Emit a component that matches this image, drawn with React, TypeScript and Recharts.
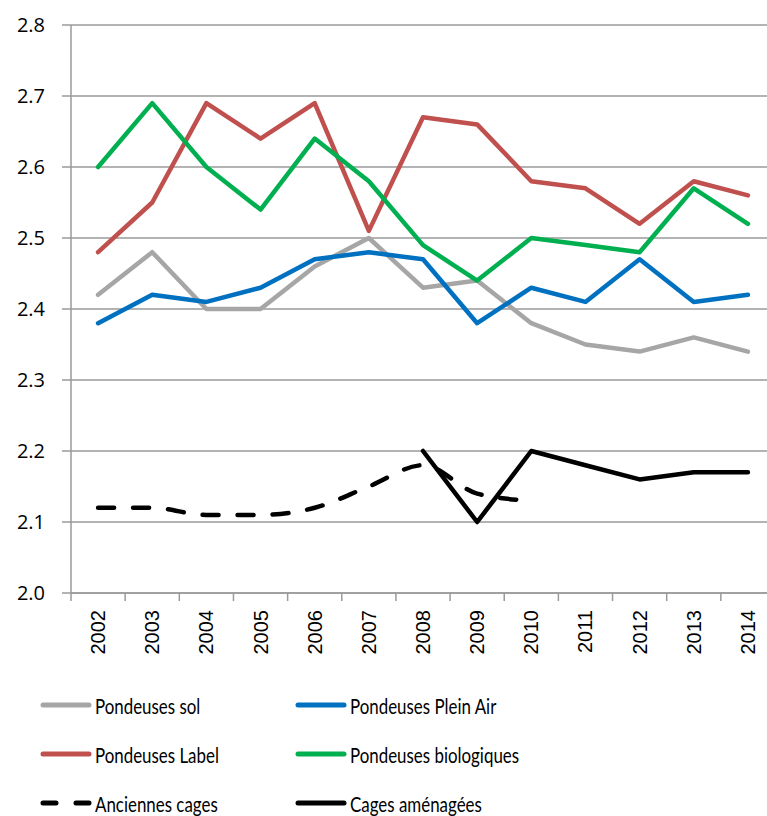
import { LineChart, Line, XAxis, YAxis, CartesianGrid } from 'recharts';

// années (axe X)
const years = ['2002', '2003', '2004', '2005', '2006', '2007', '2008', '2009', '2010', '2011', '2012', '2013', '2014'];

// séries
const pondeusesSol = [2.42, 2.48, 2.4, 2.4, 2.46, 2.5, 2.43, 2.44, 2.38, 2.35, 2.34, 2.36, 2.34];
const pondeusesPleinAir = [2.38, 2.42, 2.41, 2.43, 2.47, 2.48, 2.47, 2.38, 2.43, 2.41, 2.47, 2.41, 2.42];
const pondeusesLabel = [2.48, 2.55, 2.69, 2.64, 2.69, 2.51, 2.67, 2.66, 2.58, 2.57, 2.52, 2.58, 2.56];
const pondeusesBio = [2.6, 2.69, 2.6, 2.54, 2.64, 2.58, 2.49, 2.44, 2.5, 2.49, 2.48, 2.57, 2.52];
const anciennesCages = [2.12, 2.12, 2.11, 2.11, 2.12, 2.15, 2.18, 2.14, 2.13, null, null, null, null];
const cagesAmenagees = [null, null, null, null, null, null, 2.2, 2.1, 2.2, 2.18, 2.16, 2.17, 2.17];

const yTicks = [2.0, 2.1, 2.2, 2.3, 2.4, 2.5, 2.6, 2.7, 2.8];

const series = [
  { key: 'sol', name: 'Pondeuses sol', color: '#a6a6a6', values: pondeusesSol, dashed: false },
  { key: 'pleinAir', name: 'Pondeuses Plein Air', color: '#0070c0', values: pondeusesPleinAir, dashed: false },
  { key: 'label', name: 'Pondeuses Label', color: '#c0504d', values: pondeusesLabel, dashed: false },
  { key: 'bio', name: 'Pondeuses biologiques', color: '#00b050', values: pondeusesBio, dashed: false },
  { key: 'anciennes', name: 'Anciennes cages', color: '#000000', values: anciennesCages, dashed: true },
  { key: 'amenagees', name: 'Cages aménagées', color: '#000000', values: cagesAmenagees, dashed: false },
];

const data = years.map((year, i) => {
  const row: Record<string, string | number | null> = { year };
  series.forEach((s) => {
    row[s.key] = s.values[i];
  });
  return row;
});

const CHART_W = 775;
const CHART_H = 670;
const Y_AXIS_W = 71;
const BAND = (CHART_W - Y_AXIS_W) / years.length;
const GRID = '#9a9a9a';

const XTick = (props: any) => {
  const { x, y, payload, index } = props;
  const axisY = y - 17;
  return (
    <g>
      <line x1={x - BAND / 2} x2={x - BAND / 2} y1={axisY} y2={axisY + 8} stroke={GRID} strokeWidth={1.5} />
      {index === years.length - 1 && (
        <line x1={x + BAND / 2} x2={x + BAND / 2} y1={axisY} y2={axisY + 8} stroke={GRID} strokeWidth={1.5} />
      )}
      <text
        transform={`translate(${x},${y}) rotate(-90)`}
        textAnchor="end"
        dy="0.35em"
        fontFamily="'Liberation Sans', Arial, sans-serif"
        fontSize={20}
        fill="#000"
      >
        {payload.value}
      </text>
    </g>
  );
};

const LegendSwatch = ({ color, dashed }: { color: string; dashed: boolean }) => (
  <svg width={52} height={10} style={{ display: 'block' }}>
    <line
      x1={3}
      x2={49}
      y1={5}
      y2={5}
      stroke={color}
      strokeWidth={5}
      strokeLinecap="round"
      strokeDasharray={dashed ? '13 20' : undefined}
    />
  </svg>
);

const legendRows = [
  [series[0], series[1]],
  [series[2], series[3]],
  [series[4], series[5]],
];

export default function App() {
  return (
    <div style={{ position: 'absolute', left: 0, top: 0, width: 767, height: 816, overflow: 'hidden', background: '#fff' }}>
      <LineChart width={CHART_W} height={CHART_H} data={data} margin={{ top: 25, right: 0, bottom: 0, left: 0 }}>
        <CartesianGrid vertical={false} stroke={GRID} strokeWidth={1.5} />
        <XAxis
          dataKey="year"
          scale="band"
          height={77}
          tickLine={false}
          tickSize={8}
          tickMargin={9}
          axisLine={{ stroke: GRID, strokeWidth: 1.5 }}
          interval={0}
          tick={<XTick />}
        />
        <YAxis
          width={Y_AXIS_W}
          domain={[2.0, 2.8]}
          ticks={yTicks}
          tickFormatter={(v: number) => v.toFixed(1)}
          tickSize={9}
          tickMargin={17}
          tickLine={{ stroke: GRID, strokeWidth: 1.5 }}
          axisLine={{ stroke: GRID, strokeWidth: 1.5 }}
          tick={{ fontSize: 20, fill: '#000', fontFamily: "'Open Sans', sans-serif" }}
        />
        {series.map((s) => (
          <Line
            key={s.key}
            dataKey={s.key}
            name={s.name}
            type={s.dashed ? 'monotone' : 'linear'}
            stroke={s.color}
            strokeWidth={4.5}
            strokeLinejoin="round"
            strokeLinecap="round"
            strokeDasharray={s.dashed ? '16 19' : undefined}
            dot={false}
            activeDot={false}
            connectNulls={false}
            isAnimationActive={false}
          />
        ))}
      </LineChart>
      {legendRows.map((row, r) => (
        <div key={r} style={{ position: 'absolute', top: 692 + r * 49, left: 0, height: 26 }}>
          {row.map((s, c) => (
            <div
              key={s.key}
              style={{
                position: 'absolute',
                left: c === 0 ? 40 : 295,
                top: 0,
                height: 26,
                display: 'flex',
                alignItems: 'center',
                whiteSpace: 'nowrap',
                fontFamily: "Lato, sans-serif",
                fontSize: 21,
                color: '#000',
              }}
            >
              <LegendSwatch color={s.color} dashed={s.dashed} />
              <span style={{ marginLeft: 3, display: 'inline-block', transform: 'scaleX(0.805)', transformOrigin: 'left center' }}>
                {s.name}
              </span>
            </div>
          ))}
        </div>
      ))}
    </div>
  );
}
